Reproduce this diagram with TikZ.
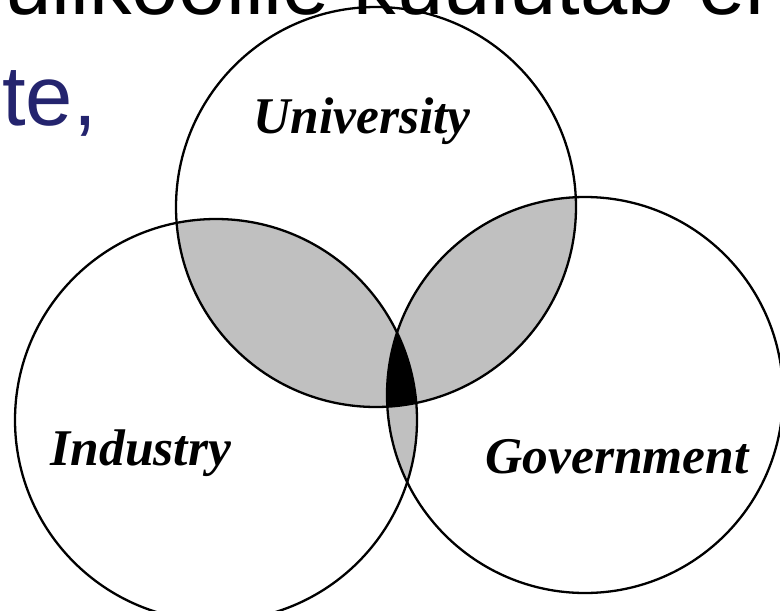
\documentclass[tikz,border=0pt]{standalone}
\usepackage{fontspec}
\setmainfont{Liberation Serif}
\newfontfamily\slidefont{Liberation Sans}
\definecolor{slideblue}{RGB}{36,36,110}
\definecolor{lensgray}{RGB}{192,192,192}
\begin{document}
\begin{tikzpicture}[x=1pt,y=-1pt,
  ring/.style={draw=black,line width=2.3pt},
  lbl/.style={font=\fontsize{51.5}{51.5}\selectfont\bfseries\itshape, anchor=base, inner sep=0pt},
  slide/.style={font=\slidefont\fontsize{85}{85}\selectfont, inner sep=0pt}]
\clip (0,0) rectangle (780,611);
\fill[white] (0,0) rectangle (780,611);
\coordinate (U) at (376,207);
\coordinate (I) at (216,420);
\coordinate (G) at (585,395);
\def\RU{200}
\def\RI{201}
\def\RG{198}
\node[slide, anchor=base west] (top) at (4,14) {ülikoolile kuulutab ei};
\node[slide, anchor=base east, text=slideblue] (nte) at (97,125) {nte,};
% pairwise lenses
\begin{scope}
  \clip (U) circle[radius=\RU];
  \fill[lensgray] (I) circle[radius=\RI];
  \fill[lensgray] (G) circle[radius=\RG];
\end{scope}
\begin{scope}
  \clip (I) circle[radius=\RI];
  \fill[lensgray] (G) circle[radius=\RG];
\end{scope}
% triple intersection
\begin{scope}
  \clip (U) circle[radius=\RU];
  \clip (I) circle[radius=\RI];
  \fill[black] (G) circle[radius=\RG];
\end{scope}
\draw[ring] (U) circle[radius=\RU];
\draw[ring] (I) circle[radius=\RI];
\draw[ring] (G) circle[radius=\RG];
\node[lbl] (uni) at (362,133) {University};
\node[lbl] (ind) at (141,465) {Industry};
\node[lbl] (gov) at (617,473) {Government};
\end{tikzpicture}
\end{document}
